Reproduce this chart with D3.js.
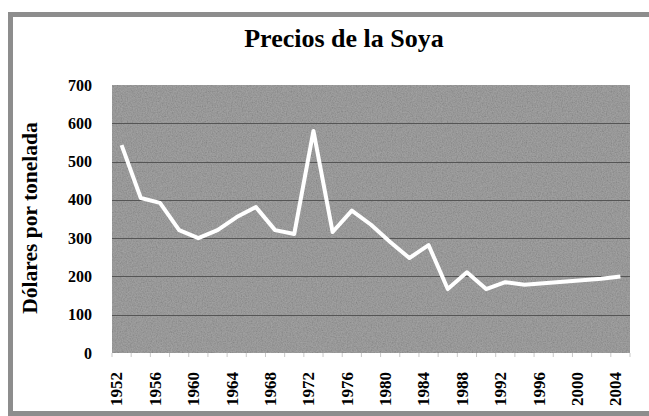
<!DOCTYPE html>
<html>
<head>
<meta charset="utf-8">
<script src="https://cdn.jsdelivr.net/npm/d3@7"></script>
<style>
  html, body { margin: 0; background: #fff; overflow: hidden; }
  svg { display: block; }
  text { font-family: "Liberation Serif", "Times New Roman", serif; font-weight: bold; fill: #000; }
</style>
</head>
<body>
<div id="app"></div>
<script>
// biennial categories, labels every 4 years
var years = ["1952","1954","1956","1958","1960","1962","1964","1966","1968","1970",
             "1972","1974","1976","1978","1980","1982","1984","1986","1988","1990",
             "1992","1994","1996","1998","2000","2002","2004"];
var prices = [543, 405, 392, 321, 300, 321, 355, 381, 321, 311,
              580, 316, 372, 335, 290, 248, 282, 167, 211, 167,
              185, 178, 182, 186, 190, 194, 200];
var yearLabels = ["1952","1956","1960","1964","1968","1972","1976","1980",
                  "1984","1988","1992","1996","2000","2004"];
var yTicks = [0, 100, 200, 300, 400, 500, 600, 700];

var W = 649, H = 416;
var plot = {left: 112, right: 630, top: 85, bottom: 353};

var svg = d3.select("#app").append("svg")
    .attr("width", W)
    .attr("height", H);

// grain for the scanned look
var defs = svg.append("defs");
var f = defs.append("filter").attr("id", "grain")
    .attr("x", 0).attr("y", 0).attr("width", 1).attr("height", 1);
f.append("feTurbulence")
    .attr("type", "fractalNoise")
    .attr("baseFrequency", 0.8)
    .attr("numOctaves", 2)
    .attr("seed", 3);
f.append("feColorMatrix")
    .attr("type", "matrix")
    .attr("values", "1 0 0 0 0  1 0 0 0 0  1 0 0 0 0  0 0 0 0 0.22");

// outer frame: top, left and bottom only (cut off on the right)
svg.append("path")
    .attr("d", "M" + (W + 10) + ",14.5 H10.5 V413.5 H" + (W + 10))
    .attr("fill", "none")
    .attr("stroke", "#8d8d8d")
    .attr("stroke-width", 5);

var x = d3.scaleBand()
    .domain(years)
    .range([plot.left, plot.right]);

var y = d3.scaleLinear()
    .domain([0, 700])
    .range([plot.bottom, plot.top]);

// plot background
svg.append("rect")
    .attr("x", plot.left).attr("y", plot.top)
    .attr("width", plot.right - plot.left)
    .attr("height", plot.bottom - plot.top)
    .attr("fill", "#8e8e8e");
svg.append("rect")
    .attr("x", plot.left).attr("y", plot.top)
    .attr("width", plot.right - plot.left)
    .attr("height", plot.bottom - plot.top)
    .attr("fill", "#8e8e8e")
    .attr("filter", "url(#grain)");

// gridlines
svg.append("g")
    .attr("class", "grid")
  .selectAll("line")
  .data(yTicks.filter(function(d) { return d > 0 && d < 700; }))
  .enter().append("line")
    .attr("x1", plot.left).attr("x2", plot.right)
    .attr("y1", function(d) { return Math.round(y(d)) + 0.5; })
    .attr("y2", function(d) { return Math.round(y(d)) + 0.5; })
    .attr("stroke", "#555")
    .attr("stroke-width", 1.2);

// faint category ticks under the plot
var edges = years.map(function(d) { return x(d); }).concat([plot.right]);
svg.append("g")
  .selectAll("line")
  .data(edges)
  .enter().append("line")
    .attr("x1", function(d) { return d; }).attr("x2", function(d) { return d; })
    .attr("y1", plot.bottom).attr("y2", plot.bottom + 4)
    .attr("stroke", "#c8c8c8");

// y axis labels
var yAxis = d3.axisLeft(y).tickValues(yTicks).tickSize(0).tickPadding(0);
svg.append("g")
    .attr("transform", "translate(92,0)")
    .call(yAxis)
    .call(function(g) { g.select(".domain").remove(); })
  .selectAll("text")
    .attr("font-family", null)
    .attr("font-size", 16)
    .attr("x", 0);

// x axis labels, rotated
svg.append("g")
  .selectAll("text")
  .data(yearLabels)
  .enter().append("text")
    .attr("transform", function(d) {
      return "translate(" + (x(d) + x.bandwidth() / 2) + ",372) rotate(-90)";
    })
    .attr("text-anchor", "end")
    .attr("dy", "0.05em")
    .attr("font-size", 17)
    .text(function(d) { return d; });

// the price line
var line = d3.line()
    .x(function(d, i) { return x(years[i]) + x.bandwidth() / 2; })
    .y(function(d) { return y(d); });

svg.append("path")
    .datum(prices)
    .attr("d", line)
    .attr("fill", "none")
    .attr("stroke", "#fff")
    .attr("stroke-width", 4)
    .attr("stroke-linejoin", "round");

// titles
svg.append("text")
    .attr("x", 344).attr("y", 47)
    .attr("text-anchor", "middle")
    .attr("font-size", 26)
    .text("Precios de la Soya");

svg.append("text")
    .attr("transform", "translate(37,218) rotate(-90)")
    .attr("text-anchor", "middle")
    .attr("font-size", 21.5)
    .text("Dólares por tonelada");
</script>
</body>
</html>
